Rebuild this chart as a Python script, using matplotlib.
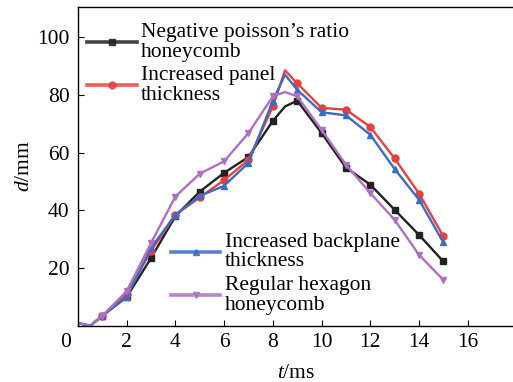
import matplotlib
matplotlib.use("Agg")
import matplotlib.pyplot as plt
import matplotlib.transforms as mtrans
import numpy as np

plt.rcParams['font.family'] = ['Liberation Serif', 'DejaVu Serif']
plt.rcParams['mathtext.fontset'] = 'custom'
plt.rcParams['mathtext.it'] = 'Liberation Serif:italic'
plt.rcParams['mathtext.rm'] = 'Liberation Serif'

t = [0, 0.5, 1, 2, 3, 4, 5, 6, 7, 8, 8.5, 9, 10, 11, 12, 13, 14, 15]
npr = [1, 0, 3.5, 10, 23.5, 38, 46.5, 53, 58.5, 71, 76, 78, 66.8, 54.8, 48.9, 40.2, 31.5, 22.3]
panel = [1, 0, 3.5, 11, 26, 38.5, 44.5, 50.5, 57.5, 76, 88.5, 84, 75.5, 74.9, 68.9, 58, 45.8, 31]
backplane = [1, 0, 3.5, 10, 27, 38.5, 45, 48.5, 56.5, 78, 87, 81.8, 74, 72.9, 66.2, 54.3, 43.7, 28.9]
hexagon = [1, 0, 3.5, 12, 28.7, 44.8, 52.7, 57, 66.8, 79.5, 81, 79.5, 67.9, 55.8, 46, 36.7, 24.6, 15.9]
marker_idx = [2, 3, 4, 5, 6, 7, 8, 9, 11, 12, 13, 14, 15, 16, 17]

labels = ["Negative poisson\u2019s ratio\nhoneycomb", "Increased panel\nthickness",
          "Increased backplane\nthickness", "Regular hexagon\nhoneycomb"]
colors = ["#222222", "#e8403c", "#3b6cc4", "#b070c0"]
markers = ["s", "o", "^", "v"]
series = [npr, panel, backplane, hexagon]
xticks = [0, 2, 4, 6, 8, 10, 12, 14, 16]
yticks = [20, 40, 60, 80, 100]

FS = 15.5
fig = plt.figure(figsize=(5.13, 3.82), dpi=100)
ax = fig.add_axes([0.152, 0.147, 0.85, 0.835])
handles = []
for y, c, m, lab in zip(series, colors, markers, labels):
    h, = ax.plot(t, y, color=c, lw=1.7, marker=m, ms=5, markevery=marker_idx, label=lab)
    handles.append(h)

ax.set_xlim(0, 17.9)
ax.set_ylim(0, 110.5)
ax.set_xticks(xticks)
ax.set_yticks(yticks)
ax.tick_params(direction='in', labelsize=FS, length=4, pad=5)
ax.tick_params(axis='y', pad=6)
# shift the shared origin label "0" to the left
lab0 = ax.get_xticklabels()[0]
lab0.set_transform(lab0.get_transform() + mtrans.ScaledTranslation(-12/100, 0, fig.dpi_scale_trans))
ax.set_xlabel('$t$/ms', fontsize=FS, labelpad=9)
ax.set_ylabel('$d$/mm', fontsize=FS, labelpad=2)
for s in ax.spines.values():
    s.set_linewidth(1.0)

common = dict(frameon=False, fontsize=FS, numpoints=1, handlelength=2.3,
              handletextpad=0.2, labelspacing=0.22, borderaxespad=0, borderpad=0)
leg1 = ax.legend(handles[:2], labels[:2], loc='upper left', bbox_to_anchor=(0.021, 0.95), **common)
for tx in leg1.get_texts():
    tx.set_linespacing(1.05)
ax.add_artist(leg1)
leg2 = ax.legend(handles[2:], labels[2:], loc='upper left', bbox_to_anchor=(0.213, 0.292), **common)
for tx in leg2.get_texts():
    tx.set_linespacing(1.05)
for leg in (leg1, leg2):
    for lh in leg.legend_handles:
        lh.set_linewidth(2.6)
        lh.set_alpha(0.85)

fig.savefig('out.png', dpi=100)
